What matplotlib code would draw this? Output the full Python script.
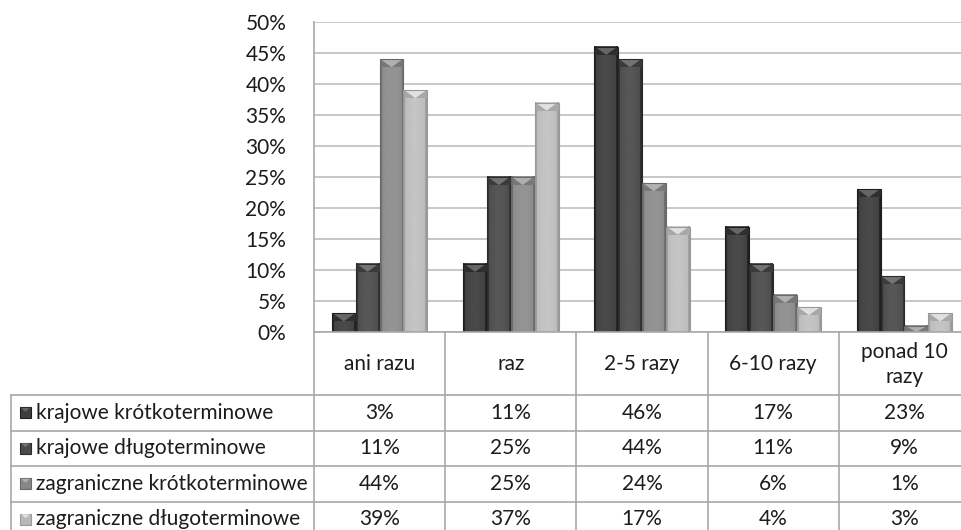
import numpy as np
import matplotlib
matplotlib.use("Agg")
import matplotlib.pyplot as plt
from matplotlib.patches import Polygon, Rectangle

plt.rcParams['font.family'] = ['Lato', 'DejaVu Sans']

categories = ["ani razu", "raz", "2-5 razy", "6-10 razy", "ponad 10\nrazy"]
series_names = ["krajowe krótkoterminowe", "krajowe długoterminowe",
                "zagraniczne krótkoterminowe", "zagraniczne długoterminowe"]
krajowe_krotko = [3, 11, 46, 17, 23]
krajowe_dlugo = [11, 25, 44, 11, 9]
zagr_krotko = [44, 25, 24, 6, 1]
zagr_dlugo = [39, 37, 17, 4, 3]
series_values = [krajowe_krotko, krajowe_dlugo, zagr_krotko, zagr_dlugo]
y_ticks = [0, 5, 10, 15, 20, 25, 30, 35, 40, 45, 50]

base_grays = [0.24, 0.29, 0.53, 0.72]
FS = 15
TXT = "#1c1c1c"

W, H = 961, 530
fig = plt.figure(figsize=(W / 100, H / 100), dpi=100)

# pixel geometry
ax_left, ax_right, ax_top, ax_bot = 314, 970, 22, 332
ax = fig.add_axes([ax_left / W, (H - ax_bot) / H, (ax_right - ax_left) / W, (ax_bot - ax_top) / H])
ax.set_xlim(0, len(categories))
ax.set_ylim(0, 50)
ax.set_yticks(y_ticks)
ax.set_yticklabels([f"{t}%" for t in y_ticks], fontsize=FS, color=TXT)
ax.tick_params(axis="y", length=0, pad=20)
ax.set_xticks([])
ax.grid(axis="y", color="#bdbdbd", linewidth=1.2)
ax.set_axisbelow(True)
for s in ["top", "right"]:
    ax.spines[s].set_visible(False)
ax.spines["left"].set_color("#a8a8a8")
ax.spines["bottom"].set_color("#a8a8a8")
ax.spines["left"].set_linewidth(1.2)
ax.spines["bottom"].set_linewidth(1.2)

n = len(series_values)
bw = 1 / (n + 1.5)
x = np.arange(len(categories))
px_per_unit = (ax_bot - ax_top) / 50.0
chev_h = 8 / px_per_unit

for i, vals in enumerate(series_values):
    g = base_grays[i]
    bars = ax.bar(x + 0.75 * bw + i * bw, vals, width=bw, align="edge",
                  color=(g, g, g), edgecolor="none", zorder=2)
    for b in bars:
        x0, w, h = b.get_x(), b.get_width(), b.get_height()
        prof = np.linspace(-1, 1, 40)
        shade = g + 0.05 * (1 - prof ** 2) - 0.12 * (np.abs(prof) > 0.85)
        shade = np.clip(shade, 0, 1)
        img = np.tile(shade, (2, 1))
        ax.imshow(img, cmap="gray", vmin=0, vmax=1, aspect="auto",
                  extent=(x0, x0 + w, 0, h), zorder=2.1, interpolation="bilinear")
        ch = min(chev_h, h)
        band = Rectangle((x0, h - ch), w, ch, facecolor=(max(g - 0.06, 0),) * 3,
                         edgecolor="none", zorder=2.2)
        ax.add_patch(band)
        lg = min(g + 0.16, 0.95)
        tri = Polygon([(x0 + w * 0.04, h), (x0 + w * 0.96, h), (x0 + w / 2, h - ch)],
                      closed=True, facecolor=(lg, lg, lg), edgecolor="none", zorder=2.3)
        ax.add_patch(tri)
        ax.add_patch(Rectangle((x0, 0), w, h, facecolor="none",
                               edgecolor=(max(g - 0.12, 0),) * 3, linewidth=0.8, zorder=2.4))

# ---- data table (pixel coordinates overlay) ----
tab = fig.add_axes([0, 0, 1, 1])
tab.set_xlim(0, W)
tab.set_ylim(H, 0)
tab.axis("off")
tab.patch.set_alpha(0)

line_kw = dict(color="#a8a8a8", linewidth=1.2)
cat_w = (ax_right - ax_left) / len(categories)
row_tops = [395, 430.5, 466, 501.5, 537]
tab_left = 11

for k in range(len(categories) + 1):
    xx = ax_left + k * cat_w
    tab.plot([xx, xx], [ax_bot, H + 5], **line_kw)
tab.plot([tab_left, tab_left], [row_tops[0], H + 5], **line_kw)
for yy in row_tops[:-1]:
    tab.plot([tab_left, ax_right], [yy, yy], **line_kw)

for k, c in enumerate(categories):
    tab.text(ax_left + (k + 0.5) * cat_w, (ax_bot + row_tops[0]) / 2 + 1, c,
             ha="center", va="center", fontsize=FS, color=TXT, linespacing=1.35)

for i, (name, vals) in enumerate(zip(series_names, series_values)):
    yc = (row_tops[i] + row_tops[i + 1]) / 2
    g = base_grays[i]
    tab.add_patch(Rectangle((20, yc - 5.5), 11, 11, facecolor=(g, g, g),
                            edgecolor=(max(g - 0.12, 0),) * 3, linewidth=0.8))
    tab.add_patch(Polygon([(21, yc - 5), (30, yc - 5), (25.5, yc - 1)],
                          facecolor=(min(g + 0.16, 0.95),) * 3, edgecolor="none"))
    tab.text(36, yc, name, ha="left", va="center", fontsize=FS, color=TXT)
    for k, v in enumerate(vals):
        tab.text(ax_left + (k + 0.5) * cat_w, yc, f"{v}%", ha="center", va="center",
                 fontsize=FS, color=TXT)

fig.savefig("out.png", dpi=100, facecolor="white")
